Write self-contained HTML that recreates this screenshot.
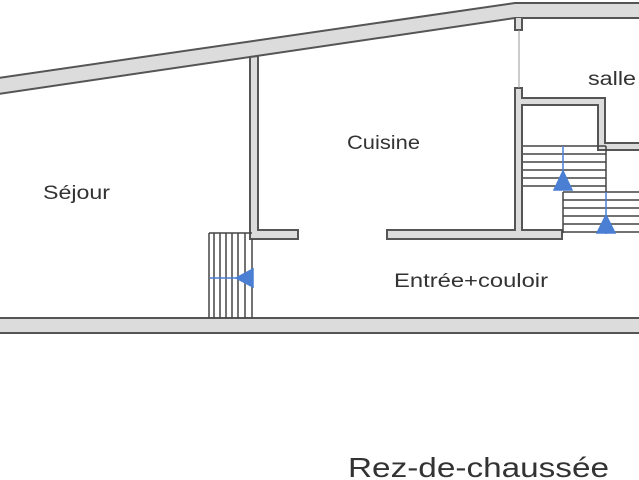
<!DOCTYPE html>
<html><head><meta charset="utf-8"><style>
html,body{margin:0;padding:0;background:#fff;width:639px;height:480px;overflow:hidden}
text{font-family:"Liberation Sans","DejaVu Sans",sans-serif;fill:#333}
</style></head><body>
<svg width="639" height="480" viewBox="0 0 639 480" xmlns="http://www.w3.org/2000/svg">
<g fill="#dcdcdc" stroke="#555" stroke-width="2">
<path d="M-2,78 L515,3 L641,3 L641,18 L522,18 L515,18 L-2,94 Z"/>
<path d="M515,18 L515,30 L522,30 L522,18"/>
<path d="M250,57 L258,56 L258,230 L298,230 L298,239 L250,239 Z"/>
<path d="M387,230 L515,230 L515,88 L522,88 L522,98 L605,98 L605,143 L641,143 L641,150 L598,150 L598,105 L522,105 L522,230 L562,230 L562,239 L387,239 Z"/>
<rect x="-2" y="318" width="645" height="15"/>
</g>
<line x1="519" y1="30" x2="519" y2="88" stroke="#999" stroke-width="1"/>
<g stroke="#444" stroke-width="1.5" fill="none">
<line x1="523" y1="146" x2="606" y2="146"/>
<line x1="523" y1="154" x2="606" y2="154"/>
<line x1="523" y1="162" x2="606" y2="162"/>
<line x1="523" y1="170" x2="606" y2="170"/>
<line x1="523" y1="178" x2="606" y2="178"/>
<line x1="523" y1="186" x2="606" y2="186"/>
<line x1="606" y1="146" x2="606" y2="192"/>
<line x1="563" y1="192" x2="639" y2="192"/>
<line x1="563" y1="192" x2="563" y2="233"/>
<line x1="563" y1="200" x2="639" y2="200"/>
<line x1="563" y1="208" x2="639" y2="208"/>
<line x1="563" y1="216" x2="639" y2="216"/>
<line x1="563" y1="224" x2="639" y2="224"/>
<line x1="563" y1="232" x2="639" y2="232"/>
<line x1="209" y1="233" x2="252" y2="233"/>
<line x1="209" y1="233" x2="209" y2="318"/>
<line x1="214" y1="233" x2="214" y2="318"/>
<line x1="220" y1="233" x2="220" y2="318"/>
<line x1="226" y1="233" x2="226" y2="318"/>
<line x1="232" y1="233" x2="232" y2="318"/>
<line x1="238" y1="233" x2="238" y2="318"/>
<line x1="245" y1="233" x2="245" y2="318"/>
<line x1="252" y1="239" x2="252" y2="318"/>
</g>
<g stroke="#4a7fd4" stroke-width="1.5" fill="#4a7fd4">
<line x1="563" y1="146" x2="563" y2="190"/>
<path d="M563,171 L572,190 L554,190 Z"/>
<line x1="606" y1="192" x2="606" y2="234"/>
<path d="M606,215 L615,233 L597,233 Z"/>
<line x1="210" y1="278" x2="253" y2="278"/>
<path d="M236,278 L253,269 L253,287 Z"/>
</g>
<text x="43" y="199" font-size="19" textLength="67" lengthAdjust="spacingAndGlyphs">Séjour</text>
<text x="347" y="149" font-size="19" textLength="73" lengthAdjust="spacingAndGlyphs">Cuisine</text>
<text x="394" y="287" font-size="19" textLength="154" lengthAdjust="spacingAndGlyphs">Entrée+couloir</text>
<text x="588" y="85" font-size="19" textLength="48" lengthAdjust="spacingAndGlyphs">salle</text>
<text x="348" y="477" font-size="28" textLength="261" lengthAdjust="spacingAndGlyphs">Rez-de-chaussée</text>
</svg>
</body></html>
